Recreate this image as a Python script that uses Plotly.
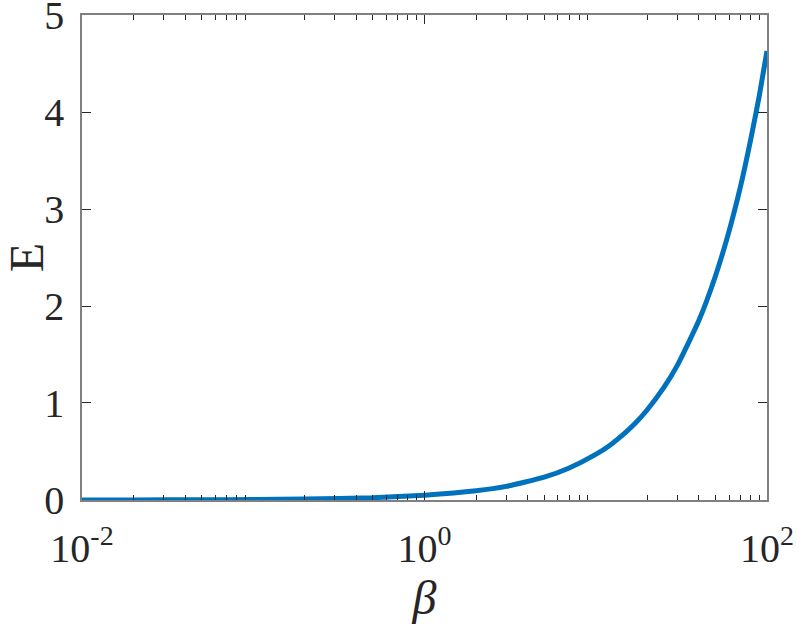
import plotly.graph_objects as go

beta = [0.01, 0.02, 0.05, 0.1, 0.2, 0.5, 1, 2, 3, 5, 7, 10, 12, 15, 17, 20, 25, 30, 40, 50, 60, 70, 80, 90, 100]
E = [0.0005, 0.001, 0.002, 0.005, 0.009, 0.023, 0.05, 0.095, 0.14, 0.235, 0.33, 0.47, 0.56, 0.70, 0.79, 0.93, 1.16, 1.39, 1.85, 2.31, 2.77, 3.23, 3.70, 4.16, 4.63]

x_tickvals = [0.01, 1, 100]
x_ticktext = ["10<sup>-2</sup>", "10<sup>0</sup>", "10<sup>2</sup>"]
y_tickvals = [0, 1, 2, 3, 4, 5]

minor_vals = [m * 10 ** d for d in (-2, -1, 0, 1) for m in range(2, 10)]

font = dict(family="Liberation Serif", size=40, color="#262626")

fig = go.Figure()
fig.add_trace(go.Scatter(x=beta, y=E, mode="lines",
                         line=dict(color="#0072BD", width=5, shape="spline", smoothing=0.5),
                         showlegend=False, cliponaxis=False))

fig.update_layout(
    width=797, height=628,
    margin=dict(l=82, r=30, t=15, b=128, autoexpand=False),
    paper_bgcolor="white", plot_bgcolor="white",
    font=font,
    xaxis=dict(type="log", range=[-2, 2], tickmode="array", tickvals=x_tickvals, ticktext=x_ticktext,
               ticks="inside", ticklen=9, tickcolor="#262626", showline=True, linecolor="#808080",
               linewidth=1.5, mirror="allticks", showgrid=False, zeroline=False, automargin=False,
               ticklabelstandoff=12, ticklabeloverflow="allow",
               minor=dict(ticks="inside", ticklen=5, tickcolor="#262626", tickvals=minor_vals, showgrid=False),
               title=dict(text="<i>β</i>", standoff=0), tickfont=font),
    yaxis=dict(range=[-0.0001, 5.0001], tickmode="array", tickvals=y_tickvals,
               ticks="inside", ticklen=9, tickcolor="#262626", showline=True, linecolor="#808080",
               linewidth=1.5, mirror="allticks", showgrid=False, zeroline=False, automargin=False,
               ticklabelstandoff=8, ticklabeloverflow="allow",
               title=dict(text="E", standoff=22), tickfont=font),
)

fig.write_html("out.html", config={"displayModeBar": False},
               post_script="document.body.style.margin='0';document.body.style.overflow='hidden';")
